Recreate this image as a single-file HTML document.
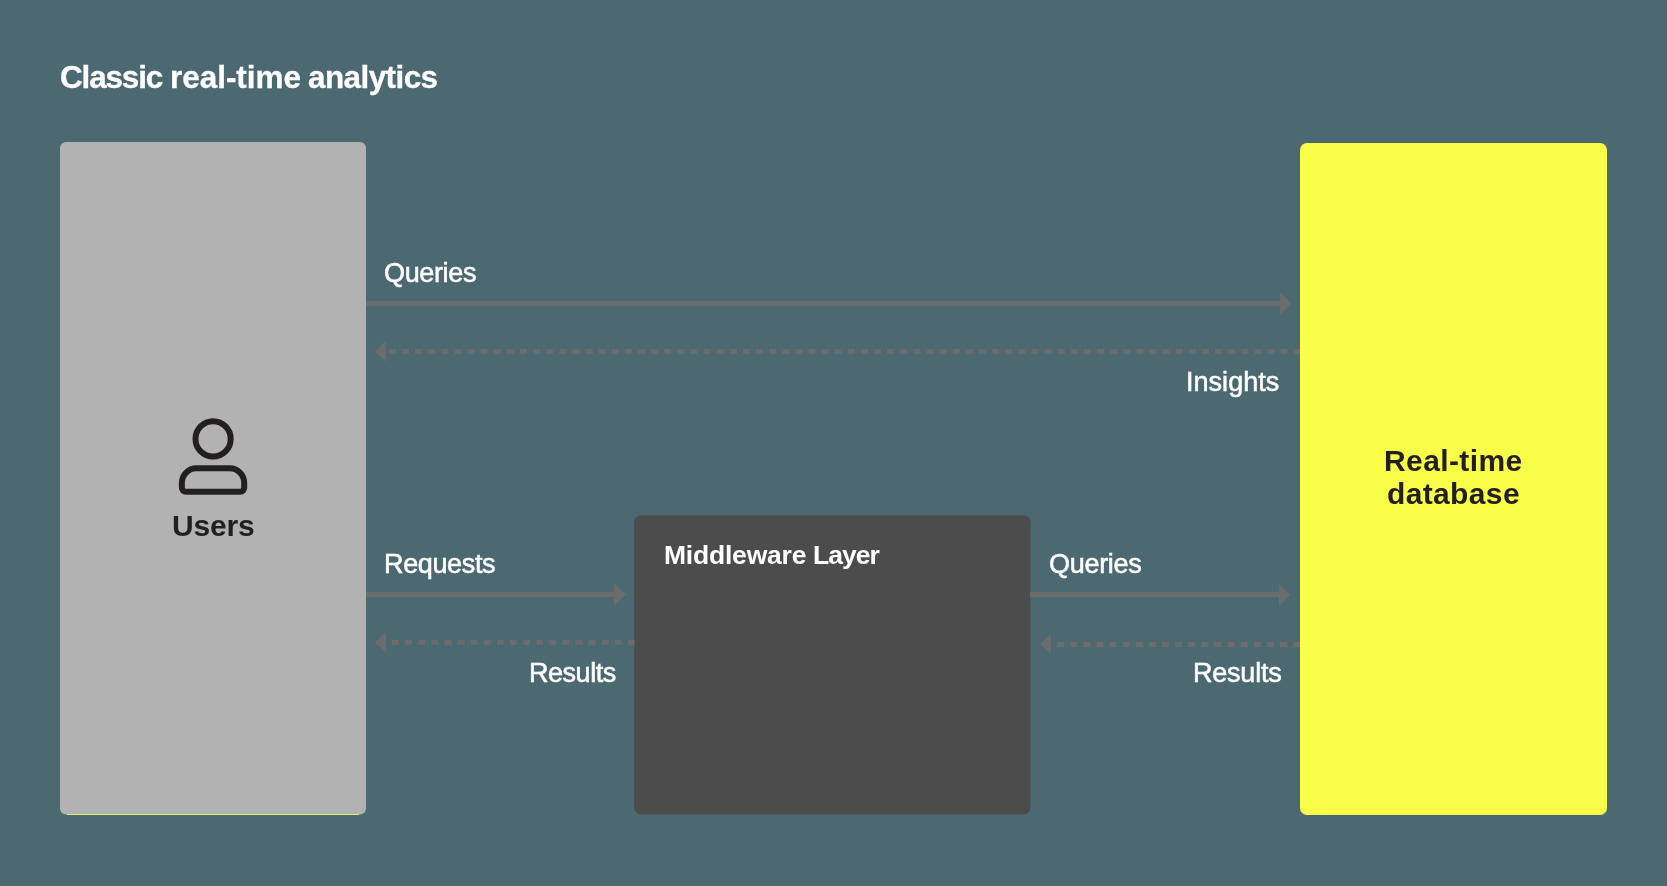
<!DOCTYPE html>
<html lang="en">
<head>
<meta charset="utf-8">
<title>Classic real-time analytics</title>
<style>
  html, body { margin: 0; padding: 0; }
  body {
    width: 1667px; height: 886px; overflow: hidden;
    background: #4c6971;
    font-family: "Liberation Sans", sans-serif;
    position: relative;
  }
  #stage { position: absolute; left: 0; top: 0; width: 1667px; height: 886px; overflow: hidden; background: #4c6971; }
  svg#lines { position: absolute; left: 0; top: 0; }
  .t { will-change: transform; position: absolute; white-space: nowrap; line-height: 1; transform-origin: 0 0; margin: 0; }
  .w { color: #ffffff; }
  .d { color: #231f20; }
  .lbl { font-size: 27px; -webkit-text-stroke: 0.55px #ffffff; }
  .b { font-weight: bold; }
  .ttl { top: 61.58px; font-size: 31.5px; -webkit-text-stroke: 0.3px #ffffff; }
  .mwl { top: 542.2px; font-size: 26.5px; }
</style>
</head>
<body>
<div id="stage">
  <svg id="lines" width="1667" height="886" viewBox="0 0 1667 886">
    <rect id="users-box" x="60" y="142" width="306" height="672.6" rx="6" ry="6" fill="#b2b2b2"/>
    <rect id="users-edge" x="67" y="814" width="292" height="1" fill="#e9ed6c"/>
    <rect id="db-box" x="1300" y="143" width="307" height="672" rx="7" ry="7" fill="#f9ff48"/>
    <rect id="mw-box" x="634.2" y="515.2" width="396.3" height="299.4" rx="7" ry="7" fill="#4c4c4c"/>
    <g fill="none" stroke="#6c6c6d" stroke-width="4.8">
      <line x1="366" y1="303.5" x2="1282" y2="303.5"/>
      <line x1="366" y1="594.5" x2="616" y2="594.5"/>
      <line x1="1030" y1="594.5" x2="1281" y2="594.5"/>
      <line x1="1300" y1="351.4" x2="387" y2="351.4" stroke-dasharray="7 6.115" stroke-dashoffset="0.8"/>
      <line x1="634.5" y1="642.4" x2="387" y2="642.4" stroke-dasharray="7 6.115" stroke-dashoffset="0.5"/>
      <line x1="1300" y1="644.5" x2="1052" y2="644.5" stroke-dasharray="7 6.115" stroke-dashoffset="0.2"/>
    </g>
    <g fill="#6c6c6d" stroke="none">
      <polygon points="1280,292.15 1291.1,303.45 1280,314.7"/>
      <polygon points="614,583.25 626,594.45 614,605.65"/>
      <polygon points="1279,583.8 1290.1,594.85 1279,605.9"/>
      <polygon points="386,340.95 374.9,351.4 386,361.8"/>
      <polygon points="386,631.95 374.9,642.4 386,652.8"/>
      <polygon points="1050.9,634 1040,643.9 1050.9,653.85"/>
    </g>
    <g fill="none" stroke="#231f20" stroke-width="6" stroke-linejoin="round">
      <circle cx="213.1" cy="438.9" r="17.6"/>
      <path d="M185.9 491.8 H240.2 a4 4 0 0 0 4 -4 V482.8 a14.5 14.5 0 0 0 -14.5 -14.5 H196.4 a14.5 14.5 0 0 0 -14.5 14.5 V487.8 a4 4 0 0 0 4 4 Z"/>
    </g>
  </svg>

  <div class="t w b ttl" id="title" style="left:59.7px; letter-spacing:-1.167px;">Classic</div>
  <div class="t w b ttl" id="title-b" style="left:170px; letter-spacing:-0.038px;">real-time</div>
  <div class="t w b ttl" id="title-c" style="left:308px; letter-spacing:-0.587px;">analytics</div>

  <div class="t w lbl" id="q1" style="left:384.1px; top:259.58px; letter-spacing:-0.35px;">Queries</div>
  <div class="t w lbl" id="ins" style="left:1186px; top:369.3px; letter-spacing:0.03px;">Insights</div>
  <div class="t w lbl" id="req" style="left:383.6px; top:550.59px; letter-spacing:-0.36px;">Requests</div>
  <div class="t w lbl" id="res1" style="left:528.8px; top:660.4px; letter-spacing:-0.47px;">Results</div>
  <div class="t w lbl" id="q2" style="left:1048.9px; top:550.59px; letter-spacing:-0.3px;">Queries</div>
  <div class="t w lbl" id="res2" style="left:1192.6px; top:660.4px; letter-spacing:-0.22px;">Results</div>

  <div class="t w b mwl" id="mw" style="left:663.6px; letter-spacing:-0.211px;">Middleware</div>
  <div class="t w b mwl" id="mw-b" style="left:812.5px; letter-spacing:-1px;">Layer</div>

  <div class="t d b" id="users" style="left:171.5px; top:511.25px; font-size:30px; letter-spacing:-0.188px;">Users</div>
  <div class="t d b" id="rt1" style="left:1384.2px; top:446.25px; font-size:30px; letter-spacing:0.4px;">Real-time</div>
  <div class="t d b" id="rt2" style="left:1387px; top:479.3px; font-size:30px; letter-spacing:0.36px;">database</div>
</div>
</body>
</html>
